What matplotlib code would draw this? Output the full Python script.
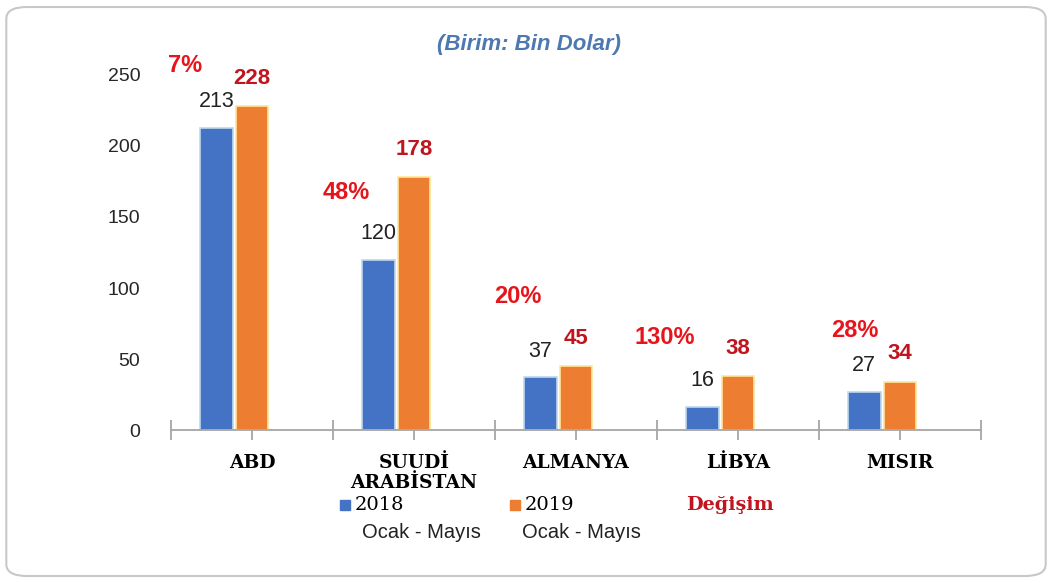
import matplotlib.pyplot as plt
from matplotlib.patches import FancyBboxPatch
from matplotlib.lines import Line2D
import numpy as np

# data
countries = ["ABD", "SUUDİ\nARABİSTAN", "ALMANYA", "LİBYA", "MISIR"]
val_2018 = [213, 120, 37, 16, 27]
val_2019 = [228, 178, 45, 38, 34]
change_pct = [7, 48, 20, 130, 28]

# where the change labels sit (x offset from group centre, y in data units)
pct_dx = [-0.41, -0.42, -0.36, -0.45, -0.28]
pct_y = [257, 167, 94, 65, 70]

blue = "#4472C4"
orange = "#ED7D31"
red = "#E8141B"
darkred = "#C0141E"

fig = plt.figure(figsize=(10.52, 5.83), dpi=100)
ax = fig.add_axes([0.1625, 0.2624, 0.77, 0.609])

x = np.arange(len(countries))
w = 0.2
ax.bar(x - 0.22, val_2018, w, color=blue, edgecolor="#BDD7EE", linewidth=1.2)
ax.bar(x, val_2019, w, color=orange, edgecolor="#FFE699", linewidth=1.2)

for i in range(len(countries)):
    ax.annotate(str(val_2018[i]), (x[i] - 0.22, val_2018[i]), xytext=(0, 19),
                textcoords="offset points", ha="center", va="center",
                fontsize=15.5, color="#222222", family="Liberation Sans")
    ax.annotate(str(val_2019[i]), (x[i], val_2019[i]), xytext=(0, 20),
                textcoords="offset points", ha="center", va="center",
                fontsize=16, color=darkred, fontweight="bold", family="Liberation Sans")
    ax.text(x[i] + pct_dx[i], pct_y[i], f"{change_pct[i]}%", ha="center", va="center",
            fontsize=17, color=red, fontweight="bold", family="Liberation Sans")

ax.set_xlim(-0.5, len(countries) - 0.5)
ax.set_ylim(0, 250)
ax.set_yticks([0, 50, 100, 150, 200, 250])
ax.tick_params(axis="y", length=0, pad=22, labelsize=14, labelcolor="#262626")
for lab in ax.get_yticklabels():
    lab.set_family("Liberation Sans")

for s in ["top", "right", "left"]:
    ax.spines[s].set_visible(False)
ax.spines["bottom"].set_color("#A6A6A6")
ax.spines["bottom"].set_linewidth(1.3)

ax.set_xticks(np.arange(-0.5, len(countries), 1.0))
ax.set_xticklabels([])
ax.tick_params(axis="x", which="major", direction="inout", length=14, color="#A6A6A6", width=1.3)
ax.set_xticks(x, minor=True)
ax.set_xticklabels(countries, minor=True, fontsize=13.5, fontweight="bold",
                   family="DejaVu Serif", linespacing=1.2, va="top")
ax.tick_params(axis="x", which="minor", direction="out", length=7, color="#A6A6A6",
               width=1.3, pad=10)

# title
fig.text(0.503, 0.923, "(Birim: Bin Dolar)", ha="center", va="center", fontsize=16,
         style="italic", fontweight="bold", color="#4E79B0", family="Liberation Sans")

# legend drawn by hand
fig.add_artist(Line2D([345 / 1052], [1 - 505 / 583], marker="s", markersize=7,
                      color=blue, linestyle="none", transform=fig.transFigure))
fig.text(355 / 1052, 1 - 505 / 583, "2018", va="center", fontsize=14, family="DejaVu Serif")
fig.text(362 / 1052, 1 - 532 / 583, "Ocak - Mayıs", va="center", fontsize=14.5,
         family="Liberation Sans", color="#222222")
fig.add_artist(Line2D([515 / 1052], [1 - 505 / 583], marker="s", markersize=7,
                      color=orange, linestyle="none", transform=fig.transFigure))
fig.text(525 / 1052, 1 - 505 / 583, "2019", va="center", fontsize=14, family="DejaVu Serif")
fig.text(522 / 1052, 1 - 532 / 583, "Ocak - Mayıs", va="center", fontsize=14.5,
         family="Liberation Sans", color="#222222")
fig.text(686 / 1052, 1 - 505 / 583, "Değişim", va="center", fontsize=13.8,
         fontweight="bold", color=darkred, family="DejaVu Serif")

# rounded frame around the chart
frame = FancyBboxPatch((0.006, 0.012), 0.988, 0.976, boxstyle="round,pad=0,rounding_size=0.02",
                       transform=fig.transFigure, facecolor="none", edgecolor="#C8C8C8",
                       linewidth=1.5)
fig.add_artist(frame)

fig.savefig("out.png", dpi=100)
